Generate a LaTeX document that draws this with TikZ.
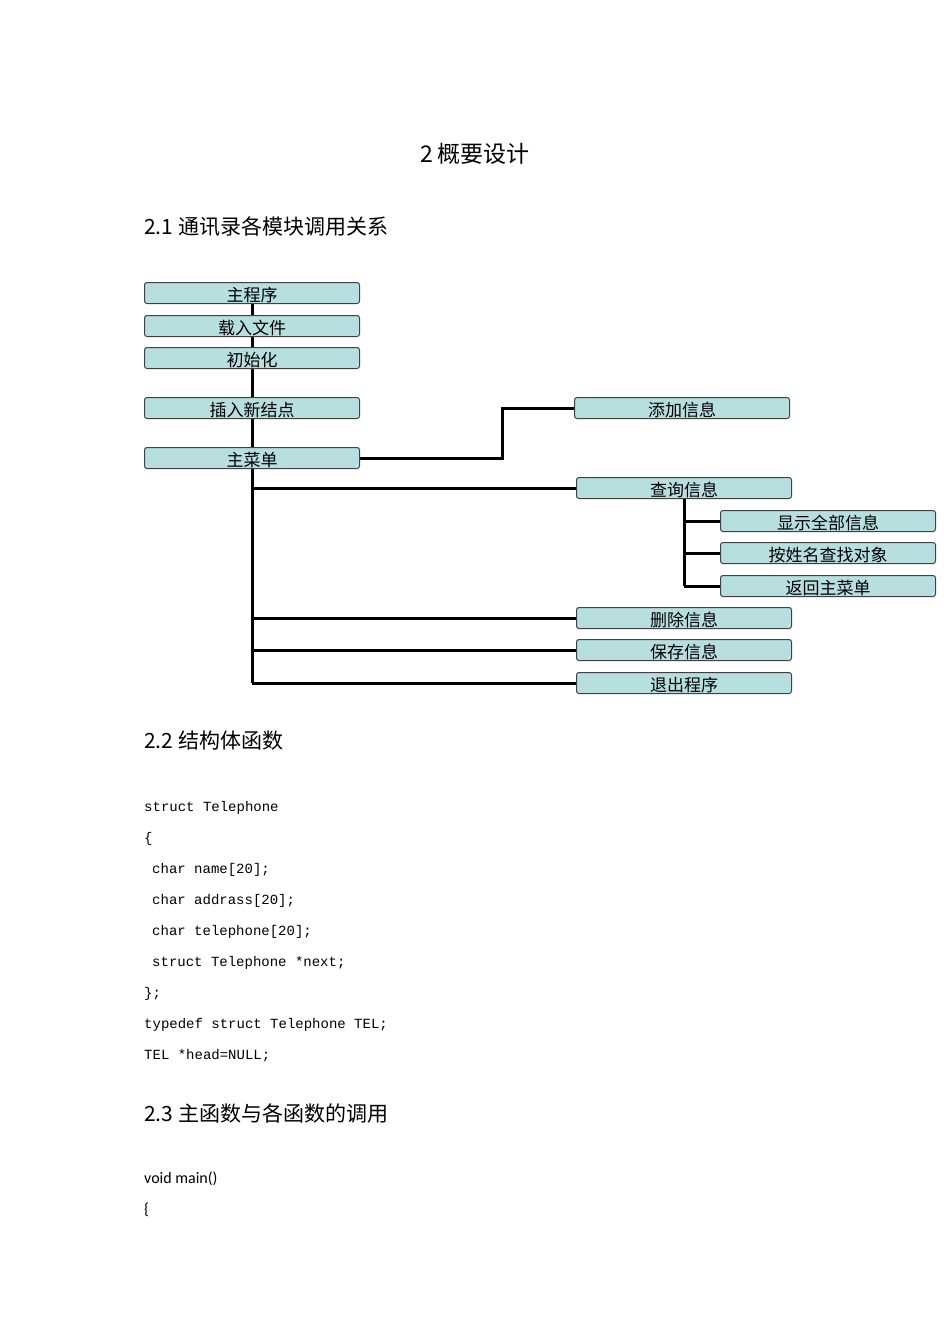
\documentclass[tikz,border=0pt]{standalone}
\usepackage{fontspec}
\setmainfont{Liberation Serif}
\newfontfamily\cjk{Noto Sans CJK SC}
\newfontfamily\cmono{Liberation Mono}
\newfontfamily\csans{Carlito}
\definecolor{boxfill}{RGB}{184,223,224}
\begin{document}
\begin{tikzpicture}[x=1pt,y=-1pt,
  box/.style={draw=black!75,fill=boxfill,rounded corners=2.5pt,line width=1pt,minimum width=215pt,minimum height=21pt,inner sep=0pt,font=\cjk\fontsize{17}{17}\selectfont,text depth=0pt,anchor=center},
  ln/.style={line width=3pt,black},
  hd/.style={font=\cjk\fontsize{21}{21}\selectfont,anchor=west,inner sep=0pt},
  code/.style={font=\cmono\fontsize{14}{14}\selectfont,anchor=west,inner sep=0pt}]
\useasboundingbox (0,0) rectangle (950,1344);
\node[font=\cjk\fontsize{23}{23}\selectfont] (t) at (475,154) {2 概要设计};
\node[hd] (h1) at (144,227) {2.1 通讯录各模块调用关系};
\node[hd] (h2) at (144,741) {2.2 结构体函数};
\node[hd] (h3) at (144,1113) {2.3 主函数与各函数的调用};
\coordinate (tt) at (252,293);
\coordinate (tb) at (252,683);
\draw[ln] (tt) -- (tb);
\coordinate (s1) at (684,499);
\coordinate (s2) at (684,586);
\draw[ln] (s1) -- (s2);
\node[box] (a) at (252,293) {\raisebox{-3pt}{主程序}};
\node[box] (b) at (252,326) {\raisebox{-3pt}{载入文件}};
\node[box] (c) at (252,358) {\raisebox{-3pt}{初始化}};
\node[box] (d) at (252,408) {\raisebox{-3pt}{插入新结点}};
\node[box] (e) at (252,458) {\raisebox{-3pt}{主菜单}};
\node[box] (f) at (682,408) {\raisebox{-3pt}{添加信息}};
\node[box] (g) at (684,488) {\raisebox{-3pt}{查询信息}};
\node[box] (g1) at (828,521) {\raisebox{-3pt}{显示全部信息}};
\node[box] (g2) at (828,553) {\raisebox{-3pt}{按姓名查找对象}};
\node[box] (g3) at (828,586) {\raisebox{-3pt}{返回主菜单}};
\node[box] (h) at (684,618) {\raisebox{-3pt}{删除信息}};
\node[box] (i) at (684,650) {\raisebox{-3pt}{保存信息}};
\node[box] (j) at (684,683) {\raisebox{-3pt}{退出程序}};
\draw[ln] (e.east) -- (502,458) |- (f.west);
\draw[ln] (252,488) -- (g.west);
\draw[ln] (252,618) -- (h.west);
\draw[ln] (252,650) -- (i.west);
\draw[ln] (252,683) -- (j.west);
\draw[ln] (684,521) -- (g1.west);
\draw[ln] (684,553) -- (g2.west);
\draw[ln] (684,586) -- (g3.west);
\node[code] (c1) at (144,808) {struct Telephone};
\node[code] (c2) at (144,839) {\{};
\node[code] (c3) at (152,870) {char name[20];};
\node[code] (c4) at (152,901) {char addrass[20];};
\node[code] (c5) at (152,932) {char telephone[20];};
\node[code] (c6) at (152,963) {struct Telephone *next;};
\node[code] (c7) at (144,994) {\};};
\node[code] (c8) at (144,1025) {typedef struct Telephone TEL;};
\node[code] (c9) at (144,1056) {TEL *head=NULL;};
\node[font=\csans\fontsize{16}{16}\selectfont,anchor=west,inner sep=0pt] (m1) at (144,1179) {void main()};
\node[font=\csans\fontsize{16}{16}\selectfont,anchor=west,inner sep=0pt] (m2) at (144,1210) {\{};
\end{tikzpicture}
\end{document}
